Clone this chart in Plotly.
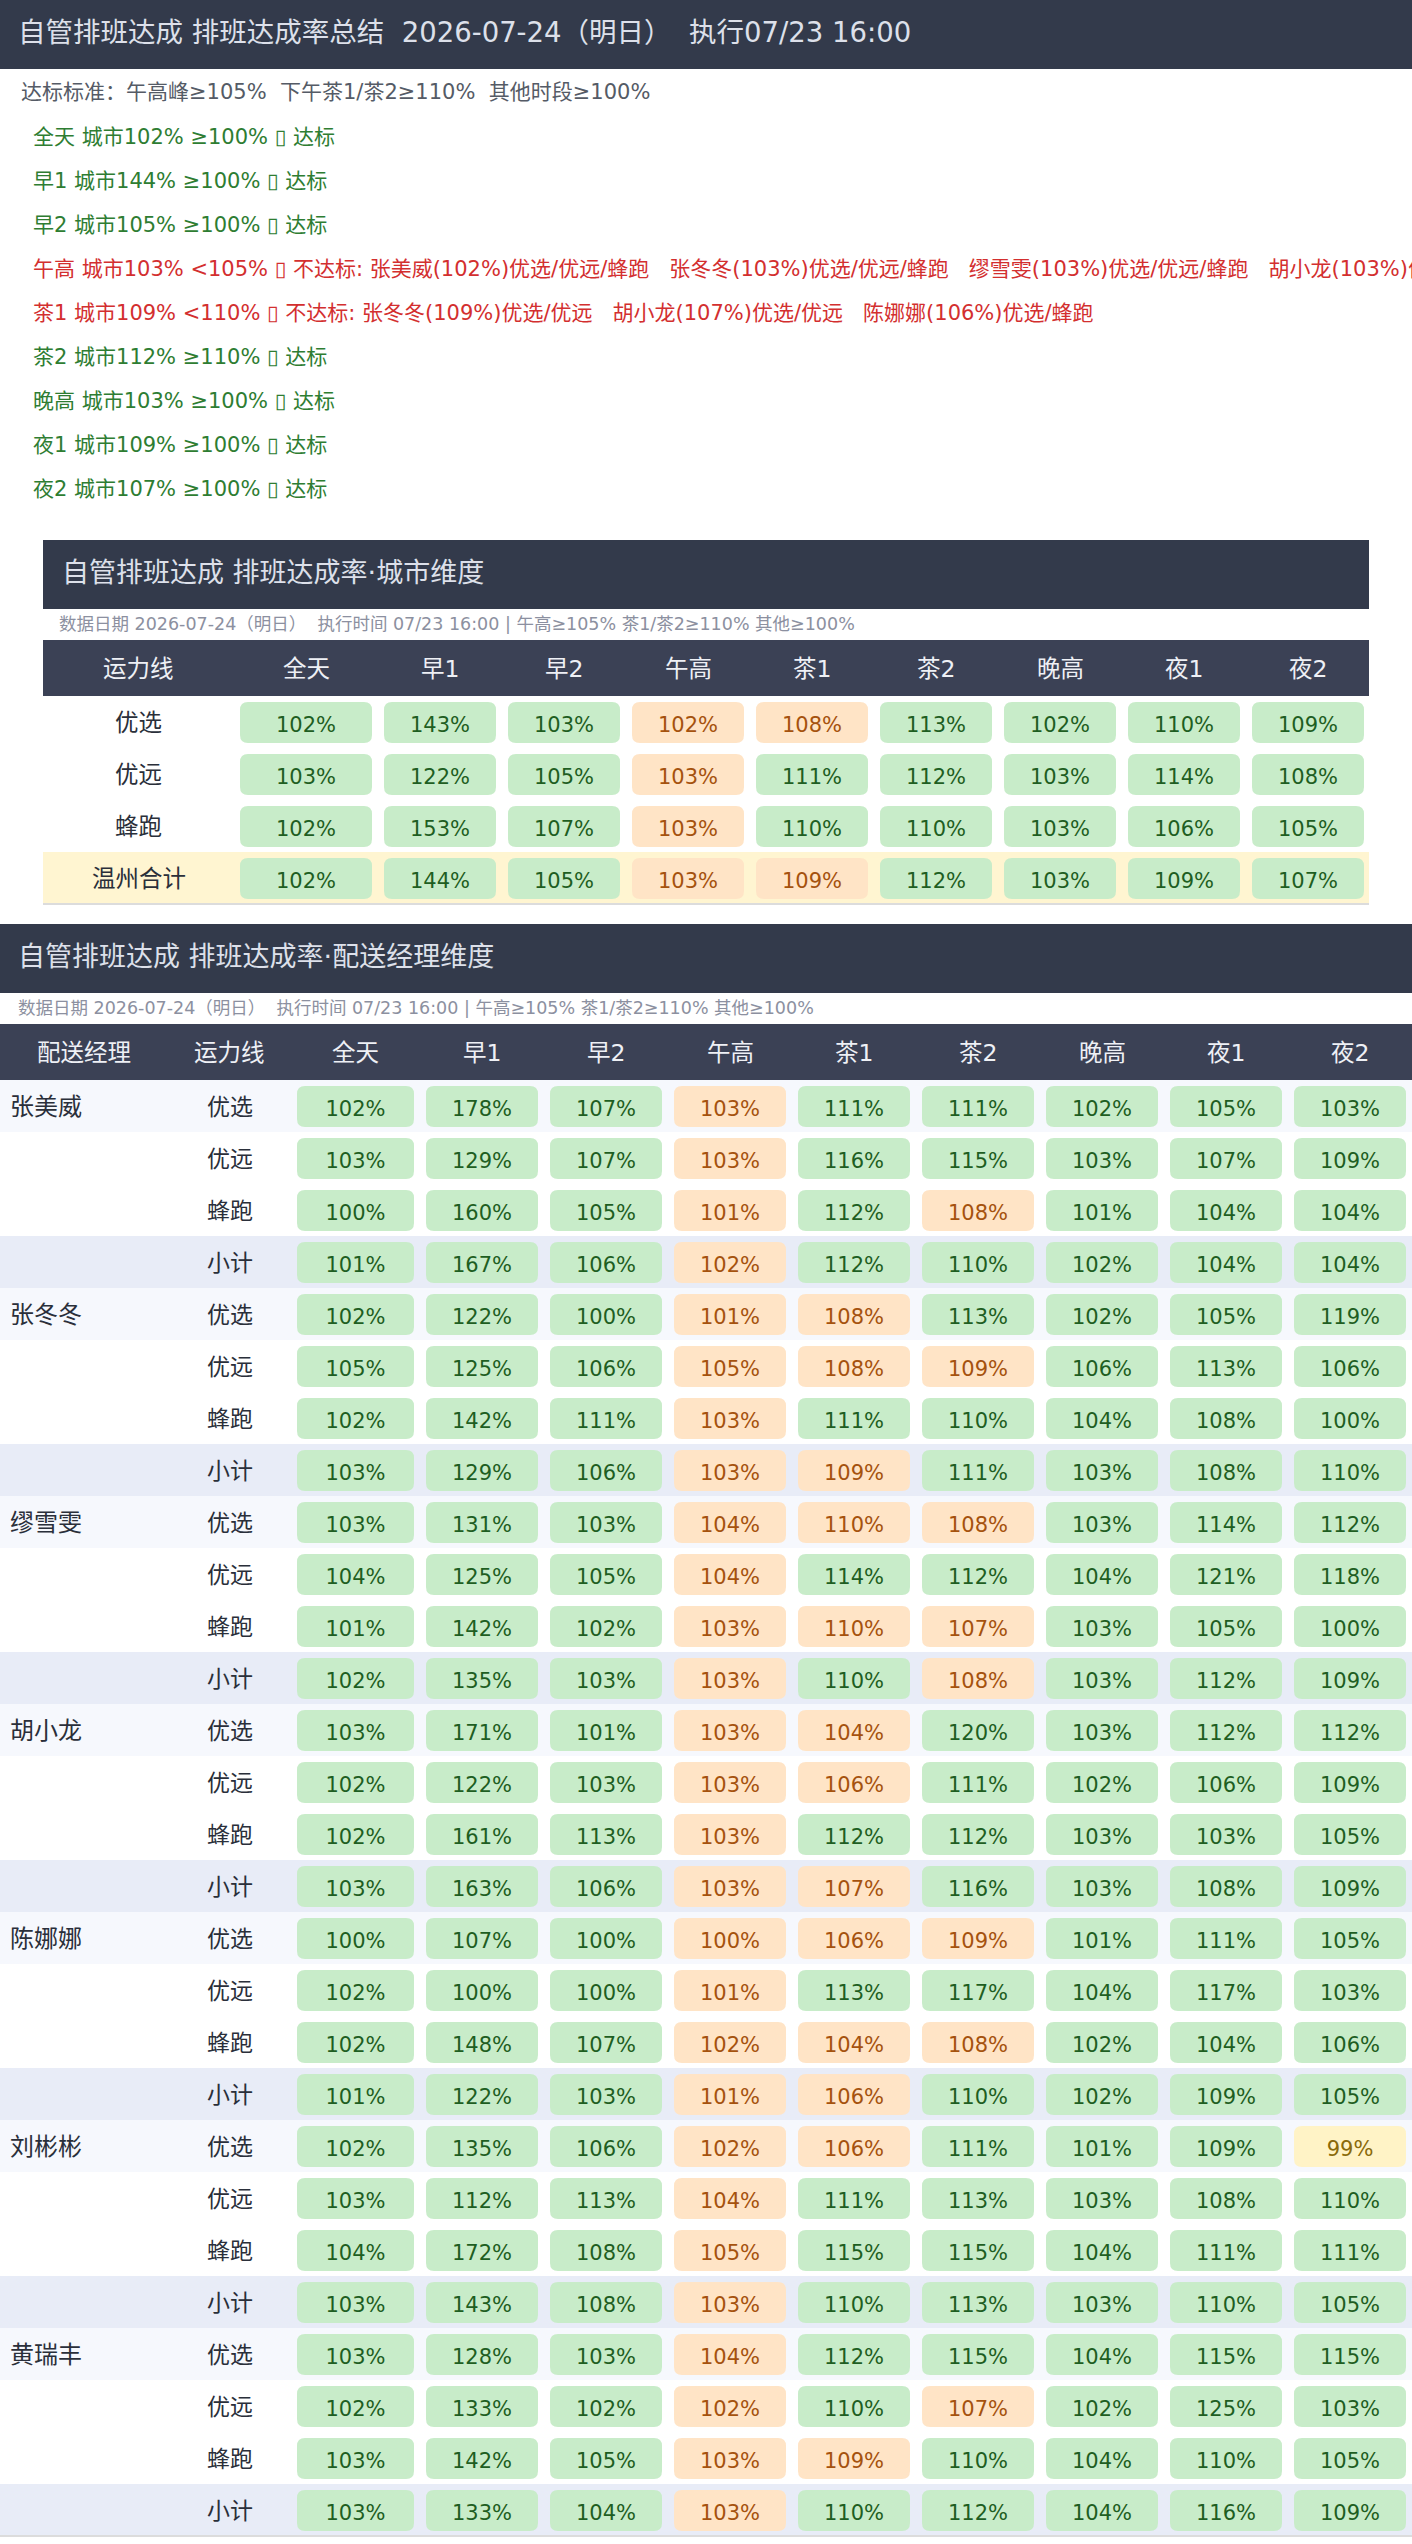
import plotly.graph_objects as go

W, H = 1412, 2544
FONT = "DejaVu Sans, Noto Sans CJK SC, sans-serif"
SP = "\u00a0"

# ---------------- data ----------------
periods = ["全天", "早1", "早2", "午高", "茶1", "茶2", "晚高", "夜1", "夜2"]
thresholds = [100, 100, 100, 105, 110, 110, 100, 100, 100]

city_rows = ["优选", "优远", "蜂跑", "温州合计"]
city_values = [
    [102, 143, 103, 102, 108, 113, 102, 110, 109],
    [103, 122, 105, 103, 111, 112, 103, 114, 108],
    [102, 153, 107, 103, 110, 110, 103, 106, 105],
    [102, 144, 105, 103, 109, 112, 103, 109, 107],
]
city_status = ["GGGOOGGGG", "GGGOGGGGG", "GGGOGGGGG", "GGGOOGGGG"]

managers = ["张美威", "张冬冬", "缪雪雯", "胡小龙", "陈娜娜", "刘彬彬", "黄瑞丰"]
mgr_lines = ["优选", "优远", "蜂跑", "小计"]

zhang_meiwei = [
    [102, 178, 107, 103, 111, 111, 102, 105, 103],
    [103, 129, 107, 103, 116, 115, 103, 107, 109],
    [100, 160, 105, 101, 112, 108, 101, 104, 104],
    [101, 167, 106, 102, 112, 110, 102, 104, 104],
]
zhang_dongdong = [
    [102, 122, 100, 101, 108, 113, 102, 105, 119],
    [105, 125, 106, 105, 108, 109, 106, 113, 106],
    [102, 142, 111, 103, 111, 110, 104, 108, 100],
    [103, 129, 106, 103, 109, 111, 103, 108, 110],
]
miao_xuewen = [
    [103, 131, 103, 104, 110, 108, 103, 114, 112],
    [104, 125, 105, 104, 114, 112, 104, 121, 118],
    [101, 142, 102, 103, 110, 107, 103, 105, 100],
    [102, 135, 103, 103, 110, 108, 103, 112, 109],
]
hu_xiaolong = [
    [103, 171, 101, 103, 104, 120, 103, 112, 112],
    [102, 122, 103, 103, 106, 111, 102, 106, 109],
    [102, 161, 113, 103, 112, 112, 103, 103, 105],
    [103, 163, 106, 103, 107, 116, 103, 108, 109],
]
chen_nana = [
    [100, 107, 100, 100, 106, 109, 101, 111, 105],
    [102, 100, 100, 101, 113, 117, 104, 117, 103],
    [102, 148, 107, 102, 104, 108, 102, 104, 106],
    [101, 122, 103, 101, 106, 110, 102, 109, 105],
]
liu_binbin = [
    [102, 135, 106, 102, 106, 111, 101, 109, 99],
    [103, 112, 113, 104, 111, 113, 103, 108, 110],
    [104, 172, 108, 105, 115, 115, 104, 111, 111],
    [103, 143, 108, 103, 110, 113, 103, 110, 105],
]
huang_ruifeng = [
    [103, 128, 103, 104, 112, 115, 104, 115, 115],
    [102, 133, 102, 102, 110, 107, 102, 125, 103],
    [103, 142, 105, 103, 109, 110, 104, 110, 105],
    [103, 133, 104, 103, 110, 112, 104, 116, 109],
]
mgr_values = [zhang_meiwei, zhang_dongdong, miao_xuewen, hu_xiaolong,
              chen_nana, liu_binbin, huang_ruifeng]

# status as shown: G = met, O = below (peak slot), Y = below (other slot)
mgr_status = [
    ["GGGOGGGGG", "GGGOGGGGG", "GGGOGOGGG", "GGGOGGGGG"],
    ["GGGOOGGGG", "GGGOOOGGG", "GGGOGGGGG", "GGGOOGGGG"],
    ["GGGOOOGGG", "GGGOGGGGG", "GGGOOOGGG", "GGGOGOGGG"],
    ["GGGOOGGGG", "GGGOOGGGG", "GGGOGGGGG", "GGGOOGGGG"],
    ["GGGOOOGGG", "GGGOGGGGG", "GGGOOOGGG", "GGGOOGGGG"],
    ["GGGOOGGGY", "GGGOGGGGG", "GGGOGGGGG", "GGGOGGGGG"],
    ["GGGOGGGGG", "GGGOGOGGG", "GGGOOGGGG", "GGGOGGGGG"],
]

title_main = f"自管排班达成 排班达成率总结{SP*2}2026-07-24（明日）{SP*2}执行07/23 16:00"
standard_text = f"达标标准：午高峰≥105%{SP*2}下午茶1/茶2≥110%{SP*2}其他时段≥100%"
city_title = "自管排班达成 排班达成率·城市维度"
mgr_title = "自管排班达成 排班达成率·配送经理维度"
info_text = f"数据日期 2026-07-24（明日）{SP*2}执行时间 07/23 16:00 | 午高≥105% 茶1/茶2≥110% 其他≥100%"
ok_mark, bad_mark = "▯", "▯"

# ---------------- styles ----------------
BAND = "#333a4b"
HEAD = "#3b4155"
TITLE_C = "#dde0ea"
HEAD_TXT = "#eef0f5"
BODY_TXT = "#2a2f3a"
FILL = {"G": "#c8ecc9", "O": "#ffe4c6", "Y": "#fff3c6"}
TXT = {"G": "#1e5e22", "O": "#a5520e", "Y": "#8a6a0a"}

fig = go.Figure()
shapes = []
annots = []


def rect(x0, y0, x1, y1, color):
    shapes.append(dict(type="rect", xref="x", yref="y", x0=x0, y0=y0, x1=x1, y1=y1,
                       fillcolor=color, line=dict(width=0), layer="below"))


def rrect(x0, y0, x1, y1, color, r=8):
    p = (f"M{x0+r},{y0} L{x1-r},{y0} Q{x1},{y0} {x1},{y0+r} L{x1},{y1-r} "
         f"Q{x1},{y1} {x1-r},{y1} L{x0+r},{y1} Q{x0},{y1} {x0},{y1-r} "
         f"L{x0},{y0+r} Q{x0},{y0} {x0+r},{y0} Z")
    shapes.append(dict(type="path", xref="x", yref="y", path=p, fillcolor=color,
                       line=dict(width=0), layer="below"))


def text(x, y, s, size, color, anchor="left"):
    annots.append(dict(x=x, y=y, xref="x", yref="y", text=s, showarrow=False,
                       xanchor=anchor, yanchor="middle",
                       font=dict(family=FONT, size=size, color=color)))


# ---------------- summary section ----------------
rect(0, 0, W, 69, BAND)
text(16, 32, title_main, 27.5, TITLE_C)
text(19, 92, standard_text, 21, "#555b66")

total = city_values[-1]
for j, p in enumerate(periods):
    v, th = total[j], thresholds[j]
    if v >= th:
        s = f"{p} 城市{v}% ≥{th}% {ok_mark} 达标"
        col = "#2e7d32"
    else:
        fails = []
        for m, vals, st in zip(managers, mgr_values, mgr_status):
            if st[3][j] != "G":
                bad = "/".join(mgr_lines[k] for k in range(3) if st[k][j] != "G")
                fails.append(f"{m}({vals[3][j]}%){bad}")
        s = f"{p} 城市{v}% <{th}% {bad_mark} 不达标: " + (SP * 3).join(fails)
        col = "#d32f2f"
    text(31, 137 + 44 * j, s, 21, col)

# ---------------- city table ----------------
CX0, CX1 = 43, 1369
c_edges = [CX0, 234, 378] + [378 + 124 * k for k in range(1, 9)]
rect(CX0, 540, CX1, 609, BAND)
text(60, 572, city_title, 27, TITLE_C)
text(57, 624, info_text, 17.5, "#8c90a0")
rect(CX0, 640, CX1, 696, HEAD)
text((c_edges[0] + c_edges[1]) / 2, 669, "运力线", 23.5, HEAD_TXT, "center")
for j, p in enumerate(periods):
    text((c_edges[j + 1] + c_edges[j + 2]) / 2, 669, p, 23.5, HEAD_TXT, "center")

CROW0, RH = 696, 52
rect(CX0, CROW0 + 3 * RH, CX1, CROW0 + 4 * RH, "#fff5d1")
shapes.append(dict(type="line", xref="x", yref="y", x0=CX0, x1=CX1,
                   y0=CROW0 + 4 * RH, y1=CROW0 + 4 * RH,
                   line=dict(color="#dcdcdc", width=2), layer="below"))

cell_x = {"G": [], "O": [], "Y": []}
cell_y = {"G": [], "O": [], "Y": []}
cell_t = {"G": [], "O": [], "Y": []}

for i, name in enumerate(city_rows):
    top = CROW0 + i * RH
    text((c_edges[0] + c_edges[1]) / 2, top + 27, name, 23.5, BODY_TXT, "center")
    for j in range(len(periods)):
        st = city_status[i][j]
        x0, x1 = c_edges[j + 1] + 6, c_edges[j + 2] - 6
        rrect(x0, top + 6, x1, top + 47, FILL[st])
        cell_x[st].append((x0 + x1) / 2)
        cell_y[st].append(top + 31)
        cell_t[st].append(f"{city_values[i][j]}%")

# ---------------- manager table ----------------
rect(0, 924, W, 993, BAND)
text(16, 956, mgr_title, 27, TITLE_C)
text(16, 1008, info_text, 17.5, "#8c90a0")
m_edges = [0, 168, 291, 420] + [420 + 124 * k for k in range(1, 9)]
rect(0, 1024, W, 1080, HEAD)
text(84, 1053, "配送经理", 23.5, HEAD_TXT, "center")
text(229.5, 1053, "运力线", 23.5, HEAD_TXT, "center")
for j, p in enumerate(periods):
    text((m_edges[j + 2] + m_edges[j + 3]) / 2, 1053, p, 23.5, HEAD_TXT, "center")

MROW0 = 1080
r = 0
for mi, m in enumerate(managers):
    for li, ln in enumerate(mgr_lines):
        top = MROW0 + r * RH
        if li == 0:
            rect(0, top, W, top + RH, "#f6f8fd")
            text(8, top + 27, m, 24, BODY_TXT)
        elif li == 3:
            rect(0, top, W, top + RH, "#e8ecf7")
        text(229.5, top + 27, ln, 23, BODY_TXT, "center")
        for j in range(len(periods)):
            st = mgr_status[mi][li][j]
            x0, x1 = m_edges[j + 2] + 6, m_edges[j + 3] - 6
            rrect(x0, top + 6, x1, top + 47, FILL[st])
            cell_x[st].append((x0 + x1) / 2)
            cell_y[st].append(top + 31)
            cell_t[st].append(f"{mgr_values[mi][li][j]}%")
        r += 1

bottom = MROW0 + r * RH
shapes.append(dict(type="line", xref="x", yref="y", x0=0, x1=W, y0=bottom, y1=bottom,
                   line=dict(color="#dcdcdc", width=2), layer="below"))

for st in ["G", "O", "Y"]:
    fig.add_trace(go.Scatter(
        x=cell_x[st], y=cell_y[st], text=cell_t[st], mode="text",
        textposition="middle center",
        textfont=dict(family=FONT, size=21, color=TXT[st]),
        hoverinfo="skip", showlegend=False, cliponaxis=False))

fig.update_layout(
    width=W, height=H, margin=dict(l=0, r=0, t=0, b=0),
    paper_bgcolor="white", plot_bgcolor="white",
    xaxis=dict(range=[0, W], visible=False, fixedrange=True),
    yaxis=dict(range=[H, 0], visible=False, fixedrange=True),
    shapes=shapes, annotations=annots, showlegend=False,
)

fig.write_html("out.html", config={"displayModeBar": False, "staticPlot": True},
               post_script="document.body.style.margin='0';document.body.style.overflow='hidden';")
